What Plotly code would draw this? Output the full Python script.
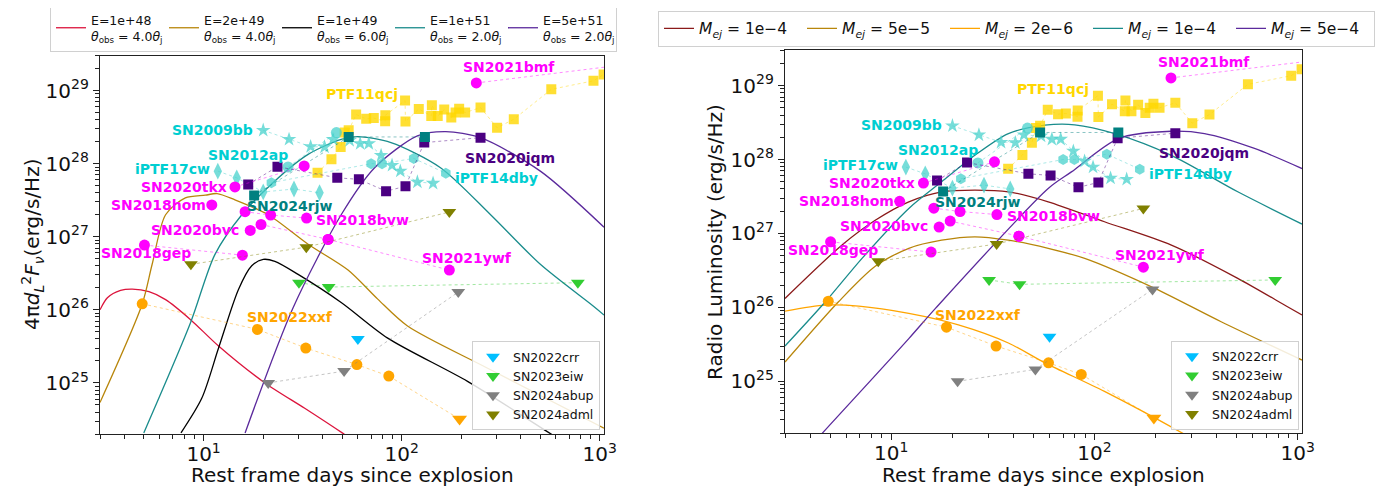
import math
import plotly.graph_objects as go

# ---------------- model curves: left panel (afterglow) ----------------
afg_labels = ["E=1e+48<br><i>θ</i><sub>obs</sub> = 4.0<i>θ</i><sub>j</sub>",
              "E=2e+49<br><i>θ</i><sub>obs</sub> = 4.0<i>θ</i><sub>j</sub>",
              "E=1e+49<br><i>θ</i><sub>obs</sub> = 6.0<i>θ</i><sub>j</sub>",
              "E=1e+51<br><i>θ</i><sub>obs</sub> = 2.0<i>θ</i><sub>j</sub>",
              "E=5e+51<br><i>θ</i><sub>obs</sub> = 2.0<i>θ</i><sub>j</sub>"]
afg_colors = ["#DC143C", "#B8860B", "#000000", "#1A8C8C", "#5B2A9C"]

afg1_days = [3.0, 3.27, 3.81, 4.37, 5.3, 6.43, 8.57, 11.9, 20.4, 32.4, 50.1, 70]
afg1_lum = [1.0e26, 1.46e26, 1.84e26, 1.92e26, 1.77e26, 1.38e26, 7.4e25, 3.2e25, 1.0e25, 4.5e24, 2.07e24, 1.1e24]
afg2_days = [3.0, 4.9, 5.5, 6.43, 8.09, 10.2, 11.7, 14.4, 21.2, 33.7, 53.6, 75.7, 107, 270, 1050]
afg2_lum = [5.4e24, 1.2e26, 4.2e26, 2.0e27, 3.4e27, 3.7e27, 3.9e27, 3.2e27, 2.0e27, 7.9e26, 3.5e26, 1.4e26, 6.0e25, 1.6e25, 2.4e24]
afg3_days = [7.69, 9.8, 11.9, 15.0, 17.5, 20.0, 22.9, 30.0, 49.5, 85, 215, 574, 1050]
afg3_lum = [2.07e24, 6.2e24, 3.0e25, 1.9e26, 4.0e26, 4.9e26, 4.6e26, 3.05e26, 1.26e26, 4.1e25, 1.05e25, 1.96e24, 7e23]
afg4_days = [4.99, 8.58, 11.4, 15.6, 22.9, 33.7, 49.5, 60, 88.3, 157, 281, 501, 929, 1050]
afg4_lum = [2.07e24, 6.6e25, 5.7e26, 2.0e27, 5.8e27, 1.34e28, 2.15e28, 2.34e28, 1.94e28, 8.8e27, 2.0e27, 4.2e26, 1.12e26, 8.5e25]
afg5_days = [16.2, 28.3, 49.5, 73, 120, 167, 250, 501, 1050]
afg5_lum = [2.07e24, 1.07e26, 2.0e27, 8.8e27, 2.4e28, 2.74e28, 2.27e28, 7.9e27, 1.35e27]

# ---------------- model curves: right panel (ejecta mass) ----------------
mej_labels = ["<i>M</i><sub><i>ej</i></sub> = 1e−4", "<i>M</i><sub><i>ej</i></sub> = 5e−5",
              "<i>M</i><sub><i>ej</i></sub> = 2e−6", "<i>M</i><sub><i>ej</i></sub> = 1e−4",
              "<i>M</i><sub><i>ej</i></sub> = 5e−4"]
mej_colors = ["#8B1A1A", "#B8860B", "#FFA500", "#1A8C8C", "#5B2A9C"]

mej1_days = [3.0, 5.71, 8.34, 12.2, 17.7, 25.8, 37.7, 59.2, 112, 239, 507, 891, 1050]
mej1_lum = [1.32e26, 6.95e26, 1.51e27, 2.68e27, 3.66e27, 3.85e27, 3.66e27, 2.68e27, 1.44e27, 6.95e26, 2.47e26, 1.02e26, 7.9e25]
mej2_days = [3.0, 5.5, 8.34, 12.2, 17.7, 25.8, 37.7, 59.2, 89.5, 198, 420, 1050]
mej2_lum = [1.82e25, 1.19e26, 3.6e26, 6.3e26, 8.1e26, 9.0e26, 8.1e26, 6.3e26, 4.6e26, 1.81e26, 6.4e25, 1.94e25]
mej3_days = [3.0, 4.74, 6.92, 12.2, 21.4, 37.7, 57, 112, 272, 450]
mej3_lum = [8.9e25, 1.07e26, 1.04e26, 8.3e25, 5.8e25, 3.3e25, 1.78e25, 7.3e24, 1.98e24, 8.9e23]
mej4_days = [3.0, 4.74, 7.18, 12.2, 17.7, 25.8, 37.7, 57, 80, 126, 239, 507, 1050]
mej4_lum = [3.0e25, 1.19e26, 4.6e26, 2.18e27, 5.0e27, 1.14e28, 2.24e28, 2.91e28, 2.95e28, 2.24e28, 1.14e28, 3.66e27, 1.34e27]
mej5_days = [4.57, 12.2, 16.5, 59.2, 77, 131, 239, 348, 613, 1050]
mej5_lum = [1.98e24, 3.78e25, 9.7e25, 4.06e27, 6.8e27, 1.92e28, 2.41e28, 2.24e28, 1.41e28, 7.55e27]

# ---------------- observations ----------------
sn2009bb_days = [20.0, 27.0, 34.7, 40.8, 45.0, 54.6, 61.7, 68.2, 78.7, 89.4, 98.4, 120, 144]
sn2009bb_lum = [2.86e28, 2.15e28, 1.71e28, 1.69e28, 2.15e28, 2.08e28, 1.88e28, 1.88e28, 1.30e28, 9.5e27, 7.9e27, 5.6e27, 5.4e27]
iptf17cw_days = [11.8, 14.7, 20.0, 28.6, 38.5]
iptf17cw_lum = [7.9e27, 6.4e27, 4.1e27, 4.5e27, 4.0e27]
sn2012ap_days = [26.7, 46.8]
sn2012ap_lum = [9.0e27, 2.66e28]
iptf14dby_days = [22.0, 70.1, 79.6, 115, 167]
iptf14dby_lum = [5.5e27, 1.0e28, 1.0e28, 1.18e28, 7.4e27]
ptf11qcj_days = [37.6, 44.2, 49.2, 51.5, 54, 58.9, 66.2, 72.3, 82.5, 82.7, 104, 104.5, 122, 141, 142, 152,
                 164, 178, 187, 195, 209, 250, 303, 368, 569, 929, 1045]
ptf11qcj_lum = [7.5e27, 1.15e28, 1.69e28, 2.66e28, 2.86e28, 4.7e28, 4.1e28, 4.2e28, 3.8e28, 4.6e28, 7.3e28, 3.76e28,
                5.6e28, 4.5e28, 6.3e28, 4.5e28, 5.5e28, 4.27e28, 5.0e28, 5.66e28, 5.0e28, 5.85e28, 3.1e28, 4.05e28,
                1.04e29, 1.36e29, 1.66e29]
sn2020jqm_days = [16.8, 23.6, 47.3, 60.8, 83.4, 104.5, 130, 250]
sn2020jqm_lum = [5.2e27, 9.1e27, 6.4e27, 6.1e27, 4.2e27, 4.9e27, 1.94e28, 2.27e28]
sn2024rjw_days = [18.0, 54, 131]
sn2024rjw_lum = [3.68e27, 2.32e28, 2.32e28]
sn2018hom_days = [11.0]
sn2018hom_lum = [2.72e27]
sn2020tkx_days = [14.4, 32.2]
sn2020tkx_lum = [4.8e27, 9.3e27]
sn2018bvw_days = [16.2, 21.8, 33.1]
sn2018bvw_lum = [2.2e27, 1.98e27, 1.8e27]
sn2020bvc_days = [17.2, 19.5, 42.5]
sn2020bvc_lum = [1.22e27, 1.47e27, 9.2e26]
sn2021ywf_days = [42.5, 174]
sn2021ywf_lum = [9.2e26, 3.5e26]
sn2018gep_days = [5.03, 15.7]
sn2018gep_lum = [7.7e26, 5.6e26]
sn2021bmf_days = [238, 1500]
sn2021bmf_lum = [1.27e29, 2.35e29]
sn2022xxf_days = [4.9, 18.7, 32.8, 59.4, 86.1]
sn2022xxf_lum = [1.21e26, 5.4e25, 3.0e25, 1.78e25, 1.24e25]
sn2022xxf_ul_days = [196]
sn2022xxf_ul_lum = [3.2e24]
sn2022crr_days = [60.1]
sn2022crr_lum = [4.0e25]
sn2023eiw_days = [30.3, 42.8, 775]
sn2023eiw_lum = [2.35e26, 2.05e26, 2.35e26]
sn2024abup_days = [21.2, 51.2, 193]
sn2024abup_lum = [1.0e25, 1.45e25, 1.75e26]
sn2024adml_days = [8.63, 33, 174]
sn2024adml_lum = [4.2e26, 7.2e26, 2.18e27]

# label text, colour, anchor point (days, lum) and side
labels = [
    ("SN2021bmf", "#FF00FF", 200, 2.07e29, "left"),
    ("PTF11qcj", "#FFD700", 40.5, 9.1e28, "left"),
    ("SN2009bb", "#00CED1", 18.2, 2.92e28, "right"),
    ("SN2012ap", "#00CED1", 27.4, 1.33e28, "right"),
    ("iPTF17cw", "#00CED1", 11.0, 8.55e27, "right"),
    ("SN2020tkx", "#FF00FF", 13.4, 4.85e27, "right"),
    ("SN2018hom", "#FF00FF", 10.5, 2.74e27, "right"),
    ("SN2024rjw", "#008080", 16.1, 2.66e27, "left"),
    ("SN2018bvw", "#FF00FF", 36.1, 1.71e27, "left"),
    ("SN2020bvc", "#FF00FF", 15.5, 1.25e27, "right"),
    ("SN2018gep", "#FF00FF", 8.8, 6.0e26, "right"),
    ("SN2021ywf", "#FF00FF", 124, 5.15e26, "left"),
    ("SN2020jqm", "#4B0082", 203, 1.21e28, "left"),
    ("iPTF14dby", "#00CED1", 182, 6.43e27, "left"),
    ("SN2022xxf", "#FFA500", 16.1, 8.0e25, "left"),
]

x_title = "Rest frame days since explosion"
y_title_left = "4π<i>d</i><sub><i>L</i></sub><sup>2</sup><i>F</i><sub><i>ν</i></sub>(erg/s/Hz)"
y_title_right = "Radio Luminosity (erg/s/Hz)"

FONT = "DejaVu Sans"
fig = go.Figure()


def add_model(days, lum, color, name, xa, ya, leg):
    fig.add_trace(go.Scatter(x=days, y=lum, mode="lines", name=name,
                             line=dict(color=color, width=1.3, shape="spline", smoothing=0.8),
                             xaxis=xa, yaxis=ya, legend=leg, showlegend=True))


def add_obs(days, lum, color, symbol, size, xa, ya, opacity=1.0, line_alpha=0.45):
    fig.add_trace(go.Scatter(x=days, y=lum, mode="lines", line=dict(color=color, width=1.0, dash="dot"),
                             opacity=line_alpha, xaxis=xa, yaxis=ya, showlegend=False, hoverinfo="skip"))
    fig.add_trace(go.Scatter(x=days, y=lum, mode="markers",
                             marker=dict(color=color, symbol=symbol, size=size, opacity=opacity,
                                         line=dict(width=0)),
                             xaxis=xa, yaxis=ya, showlegend=False))


afg = [(afg1_days, afg1_lum), (afg2_days, afg2_lum), (afg3_days, afg3_lum), (afg4_days, afg4_lum), (afg5_days, afg5_lum)]
mej = [(mej1_days, mej1_lum), (mej2_days, mej2_lum), (mej3_days, mej3_lum), (mej4_days, mej4_lum), (mej5_days, mej5_lum)]

for (d, l), c, n in zip(afg, afg_colors, afg_labels):
    add_model(d, l, c, n, "x", "y", "legend")
for (d, l), c, n in zip(mej, mej_colors, mej_labels):
    add_model(d, l, c, n, "x2", "y2", "legend2")

for xa, ya, tri_leg in (("x", "y", "legend3"), ("x2", "y2", "legend4")):
    add_obs(sn2021bmf_days, sn2021bmf_lum, "#FF00FF", "circle", 11, xa, ya)
    add_obs(ptf11qcj_days, ptf11qcj_lum, "#FFD700", "square", 10, xa, ya, opacity=0.8)
    add_obs(sn2009bb_days, sn2009bb_lum, "#48D1CC", "star", 11, xa, ya, opacity=0.75)
    add_obs(iptf17cw_days, iptf17cw_lum, "#48D1CC", "diamond-tall", 12, xa, ya, opacity=0.75)
    add_obs(sn2012ap_days, sn2012ap_lum, "#48D1CC", "circle", 11, xa, ya, opacity=0.75)
    add_obs(iptf14dby_days, iptf14dby_lum, "#48D1CC", "hexagon", 11, xa, ya, opacity=0.75)
    add_obs(sn2020jqm_days, sn2020jqm_lum, "#4B0082", "square", 10, xa, ya)
    add_obs(sn2024rjw_days, sn2024rjw_lum, "#008080", "square", 10, xa, ya)
    add_obs(sn2018hom_days, sn2018hom_lum, "#FF00FF", "circle", 11, xa, ya)
    add_obs(sn2020tkx_days, sn2020tkx_lum, "#FF00FF", "circle", 11, xa, ya)
    add_obs(sn2018bvw_days, sn2018bvw_lum, "#FF00FF", "circle", 11, xa, ya)
    add_obs(sn2020bvc_days, sn2020bvc_lum, "#FF00FF", "circle", 11, xa, ya)
    add_obs(sn2021ywf_days, sn2021ywf_lum, "#FF00FF", "circle", 11, xa, ya)
    add_obs(sn2018gep_days, sn2018gep_lum, "#FF00FF", "circle", 11, xa, ya)
    # SN2022xxf detections + upper limit
    fig.add_trace(go.Scatter(x=sn2022xxf_days + sn2022xxf_ul_days, y=sn2022xxf_lum + sn2022xxf_ul_lum,
                             mode="lines", line=dict(color="#FFA500", width=1.0, dash="dot"), opacity=0.45,
                             xaxis=xa, yaxis=ya, showlegend=False, hoverinfo="skip"))
    fig.add_trace(go.Scatter(x=sn2022xxf_days, y=sn2022xxf_lum, mode="markers",
                             marker=dict(color="#FFA500", symbol="circle", size=11),
                             xaxis=xa, yaxis=ya, showlegend=False))
    fig.add_trace(go.Scatter(x=sn2022xxf_ul_days, y=sn2022xxf_ul_lum, mode="markers",
                             marker=dict(color="#FFA500", symbol="triangle-down", size=13),
                             xaxis=xa, yaxis=ya, showlegend=False))
    for name, d, l, c in (("SN2022crr", sn2022crr_days, sn2022crr_lum, "#00BFFF"),
                          ("SN2023eiw", sn2023eiw_days, sn2023eiw_lum, "#32CD32"),
                          ("SN2024abup", sn2024abup_days, sn2024abup_lum, "#808080"),
                          ("SN2024adml", sn2024adml_days, sn2024adml_lum, "#808000")):
        fig.add_trace(go.Scatter(x=d, y=l, mode="lines", line=dict(color=c, width=1.0, dash="dot"),
                                 opacity=0.45, xaxis=xa, yaxis=ya, showlegend=False, hoverinfo="skip"))
        fig.add_trace(go.Scatter(x=d, y=l, mode="markers", name=name,
                                 marker=dict(color=c, symbol="triangle-down", size=12),
                                 xaxis=xa, yaxis=ya, legend=tri_leg, showlegend=True))

annotations = []
for xr, yr in (("x", "y"), ("x2", "y2")):
    for text, col, dx, ly, side in labels:
        annotations.append(dict(x=math.log10(dx), y=math.log10(ly), xref=xr, yref=yr, text="<b>%s</b>" % text,
                                showarrow=False, xanchor=side, yanchor="middle",
                                font=dict(family=FONT, size=14, color=col)))

# axis titles (paper placed)
title_font = dict(family=FONT, size=20, color="#111")
annotations += [
    dict(x=344 / 1384, y=1 - 467 / 487, xref="paper", yref="paper", text=x_title, showarrow=False,
         xanchor="center", yanchor="middle", font=title_font),
    dict(x=1035 / 1384, y=1 - 467 / 487, xref="paper", yref="paper", text=x_title, showarrow=False,
         xanchor="center", yanchor="middle", font=title_font),
    dict(x=24 / 1384, y=1 - 237 / 487, xref="paper", yref="paper", text=y_title_left, showarrow=False,
         textangle=-90, xanchor="center", yanchor="middle", font=title_font),
    dict(x=707 / 1384, y=1 - 234 / 487, xref="paper", yref="paper", text=y_title_right, showarrow=False,
         textangle=-90, xanchor="center", yanchor="middle", font=title_font),
]

x_minor = [float(v * m) for m in (1, 10, 100) for v in range(2, 10) if 3 <= v * m <= 1050]
y_minor = [v * 10.0 ** e for e in range(24, 30) for v in range(2, 10)]
x_major = [10.0, 100.0, 1000.0]
x_major_text = ["10<sup>1</sup>", "10<sup>2</sup>", "10<sup>3</sup>"]
y_major = [10.0 ** e for e in range(25, 30)]
y_major_text = ["10<sup>%d</sup>" % e for e in range(25, 30)]


def xaxis_cfg(domain):
    return dict(type="log", domain=domain, range=[math.log10(3), math.log10(1050)], showline=True,
                linecolor="#222", linewidth=1.2, mirror=True, ticks="outside", ticklen=6, tickwidth=1.1,
                tickcolor="#222", tickvals=x_major, ticktext=x_major_text, ticklabelstandoff=-4,
                tickfont=dict(family=FONT, size=20, color="#111"),
                minor=dict(tickvals=x_minor, ticks="outside", ticklen=3.5, tickwidth=0.9, tickcolor="#222"),
                showgrid=False, zeroline=False, automargin=False)


def yaxis_cfg(domain, anchor):
    return dict(type="log", domain=domain, anchor=anchor, range=[math.log10(2e24), math.log10(3e29)],
                showline=True, linecolor="#222", linewidth=1.2, mirror=True, ticks="outside", ticklen=6,
                tickwidth=1.1, tickcolor="#222", tickvals=y_major, ticktext=y_major_text,
                tickfont=dict(family=FONT, size=20, color="#111"),
                minor=dict(tickvals=y_minor, ticks="outside", ticklen=3.5, tickwidth=0.9, tickcolor="#222"),
                showgrid=False, zeroline=False, automargin=False)


fig.update_layout(
    width=1384, height=487, margin=dict(l=0, r=0, t=0, b=0, autoexpand=False),
    paper_bgcolor="white", plot_bgcolor="white",
    font=dict(family=FONT, color="#111"),
    xaxis=dict(xaxis_cfg([92 / 1384, 596 / 1384]), anchor="y"),
    yaxis=yaxis_cfg([1 - 426 / 487, 1 - 47.7 / 487], "x"),
    xaxis2=dict(xaxis_cfg([777 / 1384, 1294 / 1384]), anchor="y2"),
    yaxis2=yaxis_cfg([1 - 425 / 487, 1 - 42.3 / 487], "x2"),
    legend=dict(x=42 / 1384, y=1 - 44 / 487, xref="container", yref="container", xanchor="left",
                yanchor="bottom", orientation="h", font=dict(family=FONT, size=12.5, color="#111"),
                bgcolor="white", bordercolor="#d0d0d0", borderwidth=1, entrywidth=68),
    legend2=dict(x=650 / 1384, y=1 - 2.7 / 487, xref="container", yref="container", xanchor="left",
                 yanchor="top", orientation="h", font=dict(family=FONT, size=15.5, color="#111"),
                 bgcolor="white", bordercolor="#d0d0d0", borderwidth=1, entrywidth=98),
    legend3=dict(x=592 / 1384, y=1 - 422 / 487, xref="container", yref="container", xanchor="right",
                 yanchor="bottom", font=dict(family=FONT, size=12.5, color="#111"),
                 bgcolor="rgba(255,255,255,0.85)", bordercolor="#d0d0d0", borderwidth=1),
    legend4=dict(x=1291 / 1384, y=1 - 421.7 / 487, xref="container", yref="container", xanchor="right",
                 yanchor="bottom", font=dict(family=FONT, size=12.5, color="#111"),
                 bgcolor="rgba(255,255,255,0.85)", bordercolor="#d0d0d0", borderwidth=1),
    annotations=annotations,
)

fig.write_html("out.html")
